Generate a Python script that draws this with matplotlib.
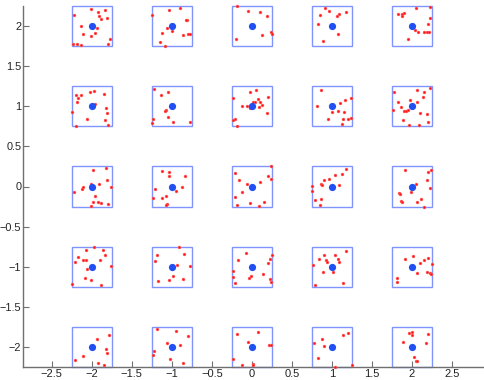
import matplotlib
matplotlib.use("Agg")
import matplotlib.pyplot as plt
from matplotlib.patches import Rectangle

plt.rcParams['font.family'] = ['Liberation Sans', 'DejaVu Sans']

centers_x = [-2, -1, 0, 1, 2]
centers_y = [2, 1, 0, -1, -2]
half = 0.25
xticks = [-2.5, -2, -1.5, -1, -0.5, 0, 0.5, 1, 1.5, 2, 2.5]
yticks = [-2, -1.5, -1, -0.5, 0, 0.5, 1, 1.5, 2]

# red point offsets (dx, dy) relative to each centre, row by row (y = 2, 1, 0, -1, -2),
# cells left to right (x = -2 .. 2)
row_p2 = [
    [(-0.0125, 0.208), (0.171, 0.2), (0.083, 0.175), (-0.221, 0.1375), (0.092, 0.125),
     (0.117, 0.0875), (0.192, 0.096), (-0.129, 0.0), (0.067, -0.021), (0.042, -0.0875),
     (-0.108, -0.104), (-0.004, -0.121), (0.225, -0.167), (-0.229, -0.225), (-0.1875, -0.221),
     (-0.133, -0.242), (0.2, -0.225)],
    [(0.1, 0.225), (-0.0375, 0.196), (-0.242, 0.142), (0.192, 0.079), (0.179, 0.071),
     (-0.058, -0.025), (0.0, -0.0625), (-0.117, -0.0875), (0.1375, -0.108), (0.208, -0.104),
     (0.233, -0.096), (-0.15, -0.204), (-0.083, -0.246)],
    [(-0.183, 0.25), (-0.046, 0.192), (0.108, 0.175), (0.1875, 0.121), (0.2375, -0.071),
     (0.254, -0.1), (0.129, -0.108), (-0.192, -0.1625)],
    [(-0.079, 0.221), (-0.0375, 0.183), (-0.146, 0.142), (0.183, 0.175), (0.0875, 0.146),
     (0.071, 0.129), (-0.171, 0.025), (0.079, -0.096), (-0.108, -0.192)],
    [(0.233, 0.242), (0.058, 0.221), (-0.171, 0.15), (-0.125, 0.15), (-0.092, 0.1625),
     (-0.117, 0.121), (0.233, 0.1), (0.208, 0.029), (0.0375, -0.05), (0.079, -0.079),
     (0.154, -0.071), (0.196, -0.079), (0.2125, -0.071), (-0.042, -0.158)],
]
row_p1 = [
    [(-0.017, 0.183), (0.029, 0.196), (-0.2, 0.1375), (-0.133, 0.142), (-0.171, 0.104),
     (0.158, 0.15), (-0.1875, 0.054), (0.046, 0.025), (0.179, -0.021), (0.192, -0.083),
     (-0.242, -0.075), (-0.0625, -0.158), (0.171, -0.171), (-0.2, -0.246), (0.208, -0.233)],
    [(-0.225, 0.221), (-0.042, 0.175), (-0.129, 0.1375), (-0.075, -0.042), (-0.0875, -0.0625),
     (-0.042, -0.133), (-0.233, -0.158), (-0.242, -0.208), (0.017, -0.196), (0.229, -0.192)],
    [(0.058, 0.208), (-0.021, 0.179), (0.204, 0.1125), (-0.233, 0.104), (0.079, 0.096),
     (0.017, 0.058), (0.042, 0.05), (0.104, 0.058), (0.129, 0.021), (-0.125, 0.008),
     (-0.054, 0.0), (-0.017, -0.025), (0.0875, -0.0125), (0.1875, -0.0875), (-0.204, -0.158),
     (-0.229, -0.175), (-0.1875, -0.246)],
    [(-0.129, 0.208), (0.2375, 0.108), (0.171, 0.083), (0.104, 0.042), (-0.1875, 0.004),
     (0.008, -0.075), (0.083, -0.054), (0.158, -0.075), (-0.042, -0.1625), (0.146, -0.154),
     (0.2, -0.1625), (0.246, -0.15), (0.133, -0.217)],
    [(0.233, 0.233), (0.0625, 0.2), (0.15, 0.179), (-0.225, 0.183), (0.146, 0.117),
     (-0.021, 0.079), (-0.167, 0.058), (0.071, 0.05), (-0.129, -0.0125), (-0.229, -0.046),
     (-0.096, -0.0625), (-0.071, -0.0625), (-0.042, -0.05), (0.108, -0.083), (0.1875, -0.1),
     (-0.104, -0.175), (0.208, -0.196), (-0.029, -0.2375), (0.096, -0.229)],
]
row_0 = [
    [(0.175, 0.233), (0.021, 0.208), (0.1875, 0.083), (-0.008, 0.033), (0.0875, 0.025),
     (-0.108, 0.0), (-0.121, -0.025), (0.242, -0.008), (-0.217, -0.071), (0.0375, -0.1125),
     (0.0125, -0.196), (0.079, -0.192), (0.1125, -0.204), (0.204, -0.2125), (-0.008, -0.2375)],
    [(-0.121, 0.1875), (-0.033, 0.183), (-0.029, 0.129), (0.167, 0.125), (0.125, 0.0),
     (-0.2125, -0.025), (0.05, -0.054), (-0.075, -0.117), (-0.121, -0.142), (-0.233, -0.142),
     (-0.0625, -0.2125), (-0.075, -0.233)],
    [(0.242, 0.25), (-0.2125, 0.171), (0.208, 0.133), (0.2375, 0.0875), (-0.154, 0.079),
     (-0.054, 0.033), (0.104, 0.05), (-0.125, -0.067), (-0.204, -0.133), (0.15, -0.192),
     (-0.017, -0.208), (-0.183, -0.233), (0.092, -0.242)],
    [(0.183, 0.2125), (0.046, 0.142), (0.129, 0.15), (-0.029, 0.096), (-0.092, 0.083),
     (-0.1375, 0.033), (-0.121, 0.0125), (0.092, 0.021), (-0.242, 0.008), (-0.242, -0.058),
     (-0.2125, -0.167), (-0.133, -0.154), (-0.142, -0.233)],
    [(-0.0875, 0.208), (0.2375, 0.204), (0.204, 0.175), (0.1875, 0.083), (0.05, 0.033),
     (0.233, -0.0125), (-0.0125, -0.0625), (-0.158, -0.079), (-0.146, -0.096), (0.121, -0.15),
     (-0.129, -0.175), (-0.125, -0.192), (0.071, -0.1875), (0.15, -0.25)],
]
row_m1 = [
    [(0.029, 0.242), (-0.067, 0.208), (0.146, 0.204), (0.167, 0.142), (-0.175, 0.125),
     (-0.108, 0.083), (-0.075, 0.0875), (-0.208, 0.0625), (0.104, 0.079), (0.242, 0.008),
     (-0.054, -0.033), (-0.083, -0.142), (-0.0125, -0.1625), (-0.246, -0.217), (0.1125, -0.233)],
    [(0.096, 0.242), (0.158, 0.158), (-0.183, 0.142), (-0.208, 0.071), (0.067, 0.025),
     (0.225, 0.0125), (0.008, -0.033), (0.017, -0.1125), (-0.029, -0.1625), (0.1375, -0.154),
     (-0.167, -0.175)],
    [(-0.067, 0.171), (0.25, 0.142), (0.229, 0.096), (-0.175, 0.079), (0.204, 0.046),
     (-0.233, -0.054), (0.146, -0.0875), (-0.0125, -0.121), (-0.0375, -0.142), (-0.2375, -0.129),
     (0.225, -0.158), (0.246, -0.1875), (-0.208, -0.2)],
    [(0.175, 0.196), (-0.096, 0.142), (0.042, 0.146), (-0.158, 0.092), (-0.071, 0.0875),
     (-0.054, 0.0625), (0.079, 0.092), (0.0875, 0.058), (-0.229, 0.021), (0.017, -0.067),
     (-0.108, -0.067), (0.146, -0.2), (-0.2125, -0.225)],
    [(0.0125, 0.133), (0.208, 0.108), (-0.079, 0.092), (0.154, 0.083), (0.108, 0.05),
     (0.25, 0.033), (0.071, -0.083), (0.196, -0.067), (0.229, -0.079), (0.242, -0.092),
     (-0.1875, -0.142), (-0.183, -0.1875)],
]
row_m2 = [
    [(0.221, 0.15), (0.067, 0.1), (0.175, -0.029), (0.1875, -0.079), (-0.104, -0.1125),
     (-0.2125, -0.158), (0.079, -0.2), (0.154, -0.221)],
    [(-0.183, 0.225), (0.058, 0.204), (0.204, 0.1375), (-0.054, 0.05), (0.104, 0.025),
     (-0.225, -0.046), (-0.233, -0.1), (-0.017, -0.154), (0.146, -0.196)],
    [(-0.183, 0.167), (0.079, 0.183), (-0.05, 0.058), (0.217, 0.021), (0.2375, 0.021),
     (-0.229, -0.154), (-0.117, -0.221), (0.017, -0.208), (0.0125, -0.225)],
    [(0.204, 0.179), (0.146, 0.154), (-0.125, 0.104), (-0.221, 0.054), (-0.092, 0.017),
     (-0.167, -0.1375), (0.0375, -0.246), (0.25, -0.229)],
    [(-0.029, 0.175), (0.008, 0.1875), (0.004, 0.15), (0.208, 0.1625), (-0.104, 0.058),
     (0.175, 0.046), (0.033, -0.129), (0.054, -0.175), (0.071, -0.175)],
]
rows = [row_p2, row_p1, row_0, row_m1, row_m2]

W, H = 485, 380
fig = plt.figure(figsize=(W / 100, H / 100), dpi=100)
ax = fig.add_axes([23 / W, (H - 367) / H, (W - 23) / W, (367 - 6) / H])
ax.set_xlim(-2.86, 2.915)
ax.set_ylim(-2.25, 2.25)

square_col = '#8094ff'
dot_col = '#1f4ff5'
for cy, row in zip(centers_y, rows):
    for cx, pts in zip(centers_x, row):
        ax.add_patch(Rectangle((cx - half, cy - half), 2 * half, 2 * half, fill=False,
                               edgecolor=square_col, linewidth=1.0, clip_on=False, zorder=2))
        xs = [cx + p[0] for p in pts]
        ys = [cy + p[1] for p in pts]
        ax.plot(xs, ys, 'o', color='#ff1010', markersize=2.0, markeredgewidth=0.4,
                markeredgecolor='#ff6060', clip_on=False, zorder=3)
        ax.plot([cx], [cy], 'o', color=dot_col, markersize=5.2, markeredgewidth=0,
                clip_on=False, zorder=4)

for s in ['top', 'right']:
    ax.spines[s].set_visible(False)
for s in ['left', 'bottom']:
    ax.spines[s].set_color('#707070')
    ax.spines[s].set_linewidth(1.0)
ax.set_xticks(xticks)
ax.set_yticks(yticks)
ax.set_xticklabels([('\u2212' if v < 0 else '') + f'{abs(v):g}' for v in xticks])
ax.set_yticklabels([('\u2212' if v < 0 else '') + f'{abs(v):g}' for v in yticks])
ax.tick_params(direction='in', length=4, width=0.8, color='#707070', labelsize=8,
               labelcolor='#222222')
ax.tick_params(axis='x', pad=1.5)
ax.tick_params(axis='y', pad=1.2, labelsize=7.8)
ax.set_facecolor('white')
fig.savefig('out.png', dpi=100)
